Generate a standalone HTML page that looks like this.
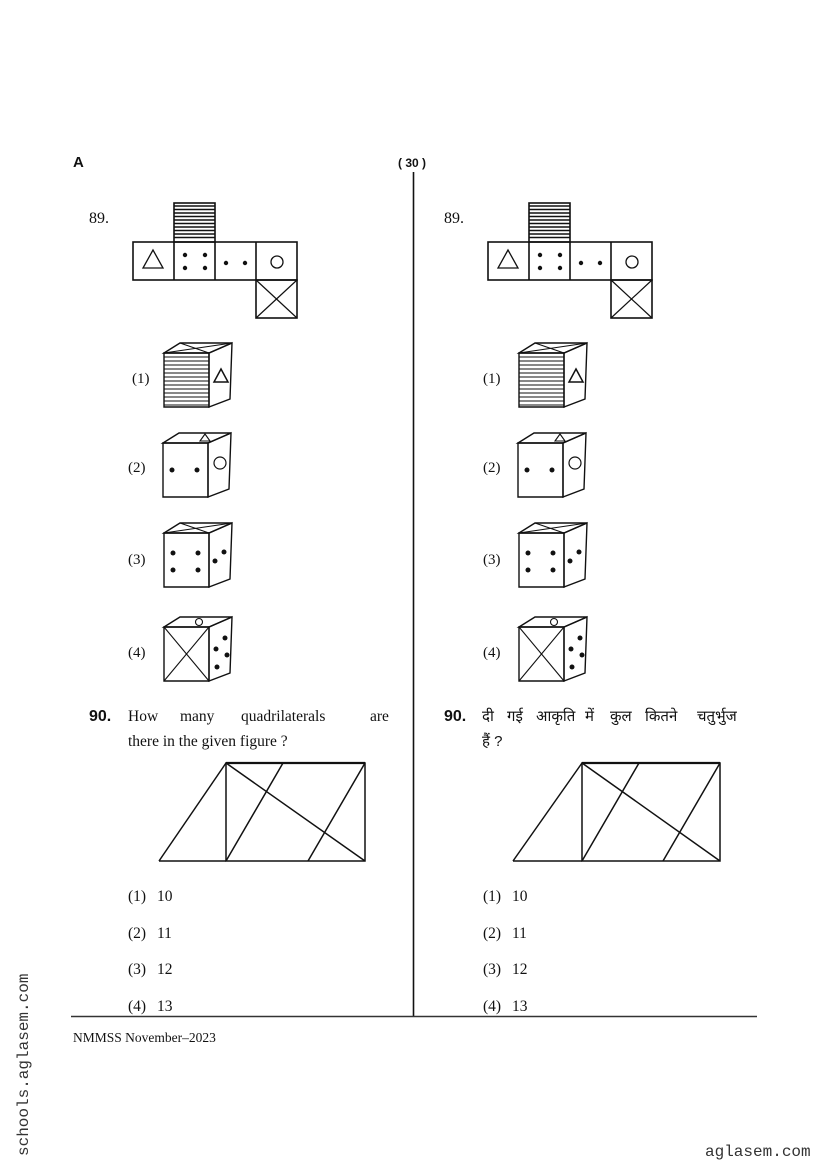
<!DOCTYPE html>
<html><head><meta charset="utf-8"><style>
html,body{margin:0;padding:0;background:#fff}
svg{display:block}
.s{font-family:"Liberation Serif",serif;fill:#111}
.b{font-family:"Liberation Sans",sans-serif;font-weight:bold;fill:#111}
.m{font-family:"Liberation Mono",monospace;fill:#333}
.h{font-family:"Liberation Sans","DejaVu Sans",sans-serif;fill:#111}
</style></head><body>
<svg width="826" height="1169" viewBox="0 0 826 1169" xmlns="http://www.w3.org/2000/svg">
<defs>
<g id="box" fill="none" stroke="#111" stroke-width="1.4">
<polygon points="0,10 45,10 45,64 0,64" fill="#fff"/>
<polygon points="0,10 16,0 68,0 45,10"/>
<polygon points="45,10 68,0 66,56 45,64"/>
</g>
<g id="xtop" stroke="#111" stroke-width="1.1"><line x1="0" y1="10" x2="68" y2="0"/><line x1="16" y1="0" x2="45" y2="10"/></g>
<g id="net" fill="none" stroke="#111" stroke-width="1.6">
<rect x="133" y="242" width="164" height="38"/>
<line x1="174" y1="242" x2="174" y2="280"/><line x1="215" y1="242" x2="215" y2="280"/><line x1="256" y1="242" x2="256" y2="280"/>
<rect x="174" y="203" width="41" height="39"/>
<rect x="256" y="280" width="41" height="38"/>
<line x1="256" y1="280" x2="297" y2="318" stroke-width="1.2"/><line x1="297" y1="280" x2="256" y2="318" stroke-width="1.2"/>
<g stroke-width="1.5">
<line x1="174" y1="206" x2="215" y2="206"/><line x1="174" y1="209.5" x2="215" y2="209.5"/><line x1="174" y1="213" x2="215" y2="213"/><line x1="174" y1="216.5" x2="215" y2="216.5"/><line x1="174" y1="220" x2="215" y2="220"/><line x1="174" y1="223.5" x2="215" y2="223.5"/><line x1="174" y1="227" x2="215" y2="227"/><line x1="174" y1="230.5" x2="215" y2="230.5"/><line x1="174" y1="234" x2="215" y2="234"/><line x1="174" y1="237.5" x2="215" y2="237.5"/></g>
<polygon points="153,250 143,268 163,268" stroke-width="1.3"/>
<circle cx="277" cy="262" r="6" stroke-width="1.3"/>
<g fill="#111" stroke="none"><circle cx="185" cy="255" r="2.2"/><circle cx="205" cy="255" r="2.2"/><circle cx="185" cy="268" r="2.2"/><circle cx="205" cy="268" r="2.2"/><circle cx="226" cy="263" r="2.2"/><circle cx="245" cy="263" r="2.2"/></g>
</g>
<g id="c1"><use href="#box"/><use href="#xtop"/>
<g stroke="#111" stroke-width="1.1"><line x1="0" y1="14" x2="45" y2="14"/><line x1="0" y1="18" x2="45" y2="18"/><line x1="0" y1="22" x2="45" y2="22"/><line x1="0" y1="26" x2="45" y2="26"/><line x1="0" y1="30" x2="45" y2="30"/><line x1="0" y1="34" x2="45" y2="34"/><line x1="0" y1="38" x2="45" y2="38"/><line x1="0" y1="42" x2="45" y2="42"/><line x1="0" y1="46" x2="45" y2="46"/><line x1="0" y1="50" x2="45" y2="50"/><line x1="0" y1="54" x2="45" y2="54"/><line x1="0" y1="58" x2="45" y2="58"/><line x1="0" y1="62" x2="45" y2="62"/></g>
<polygon points="57,26 50,39 64,39" fill="none" stroke="#111" stroke-width="1.5"/></g>
<g id="c2"><use href="#box"/><polygon points="42,1 37,8 47,8" fill="none" stroke="#111" stroke-width="1.1"/>
<circle cx="9" cy="37" r="2.5" fill="#111"/><circle cx="34" cy="37" r="2.5" fill="#111"/><circle cx="57" cy="30" r="6" fill="none" stroke="#111" stroke-width="1.2"/></g>
<g id="c3"><use href="#box"/><use href="#xtop"/>
<g fill="#111"><circle cx="9" cy="30" r="2.5"/><circle cx="34" cy="30" r="2.5"/><circle cx="9" cy="47" r="2.5"/><circle cx="34" cy="47" r="2.5"/><circle cx="51" cy="38" r="2.5"/><circle cx="60" cy="29" r="2.5"/></g></g>
<g id="c4"><use href="#box"/><g stroke="#111" stroke-width="1.1"><line x1="0" y1="10" x2="45" y2="64"/><line x1="45" y1="10" x2="0" y2="64"/></g>
<circle cx="35" cy="5" r="3.5" fill="#fff" stroke="#111" stroke-width="1.1"/>
<g fill="#111"><circle cx="61" cy="21" r="2.5"/><circle cx="52" cy="32" r="2.5"/><circle cx="63" cy="38" r="2.5"/><circle cx="53" cy="50" r="2.5"/></g></g>
</defs>

<text class="b" x="73" y="167" font-size="15">A</text>
<text class="b" x="398" y="167" font-size="12">( 30 )</text>
<line x1="413.5" y1="172" x2="413.5" y2="1017" stroke="#111" stroke-width="1.6"/>
<line x1="71" y1="1016.5" x2="757" y2="1016.5" stroke="#333" stroke-width="1.6"/>

<text class="s" x="89" y="223" font-size="16">89.</text>
<text class="s" x="444" y="223" font-size="16">89.</text>
<use href="#net"/>
<use href="#net" transform="translate(355,0)"/>

<g class="s" font-size="15">
<text class="s" x="132" y="383">(1)</text><text class="s" x="128" y="472">(2)</text><text class="s" x="128" y="564">(3)</text><text class="s" x="128" y="657">(4)</text>
<text class="s" x="483" y="383">(1)</text><text class="s" x="483" y="472">(2)</text><text class="s" x="483" y="564">(3)</text><text class="s" x="483" y="657">(4)</text>
</g>
<use href="#c1" transform="translate(164,343)"/>
<use href="#c2" transform="translate(163,433)"/>
<use href="#c3" transform="translate(164,523)"/>
<use href="#c4" transform="translate(164,617)"/>
<use href="#c1" transform="translate(519,343)"/>
<use href="#c2" transform="translate(518,433)"/>
<use href="#c3" transform="translate(519,523)"/>
<use href="#c4" transform="translate(519,617)"/>

<text class="b" x="89" y="721" font-size="16">90.</text>
<text class="s" y="721" font-size="15.5"><tspan x="128">How</tspan><tspan x="180">many</tspan><tspan x="241">quadrilaterals</tspan><tspan x="370">are</tspan></text>
<text class="s" x="128" y="746" font-size="15.5">there in the given figure ?</text>
<text class="b" x="444" y="721" font-size="16">90.</text>
<text class="h" y="721" font-size="15"><tspan x="482">दी</tspan><tspan x="507">गई</tspan><tspan x="536">आकृति</tspan><tspan x="585">में</tspan><tspan x="610">कुल</tspan><tspan x="645">कितने</tspan><tspan x="697">चतुर्भुज</tspan></text>
<text class="h" x="482" y="746" font-size="15">हैं  ?</text>

<g fill="none" stroke="#111" stroke-width="1.5">
<rect x="226" y="763" width="139" height="98"/><line x1="226" y1="763" x2="365" y2="763" stroke-width="2.3"/>
<line x1="159" y1="861" x2="226" y2="861"/><line x1="159" y1="861" x2="226" y2="763"/>
<line x1="226" y1="763" x2="365" y2="861"/><line x1="283" y1="763" x2="226" y2="861"/><line x1="365" y1="763" x2="308" y2="861"/>
<rect x="582" y="763" width="138" height="98"/><line x1="582" y1="763" x2="720" y2="763" stroke-width="2.3"/>
<line x1="513" y1="861" x2="582" y2="861"/><line x1="513" y1="861" x2="582" y2="763"/>
<line x1="582" y1="763" x2="720" y2="861"/><line x1="639" y1="763" x2="582" y2="861"/><line x1="720" y1="763" x2="663" y2="861"/>
</g>

<g font-size="15.5">
<text class="s" x="128" y="901">(1)</text><text class="s" x="157" y="901">10</text>
<text class="s" x="128" y="938">(2)</text><text class="s" x="157" y="938">11</text>
<text class="s" x="128" y="974">(3)</text><text class="s" x="157" y="974">12</text>
<text class="s" x="128" y="1011">(4)</text><text class="s" x="157" y="1011">13</text>
<text class="s" x="483" y="901">(1)</text><text class="s" x="512" y="901">10</text>
<text class="s" x="483" y="938">(2)</text><text class="s" x="512" y="938">11</text>
<text class="s" x="483" y="974">(3)</text><text class="s" x="512" y="974">12</text>
<text class="s" x="483" y="1011">(4)</text><text class="s" x="512" y="1011">13</text>
</g>
<text class="s" x="73" y="1042" font-size="13.5">NMMSS November–2023</text>
<text class="m" transform="translate(28,1156) rotate(-90)" font-size="16">schools.aglasem.com</text>
<text class="m" x="705" y="1156" font-size="16">aglasem.com</text>
</svg>
</body></html>
